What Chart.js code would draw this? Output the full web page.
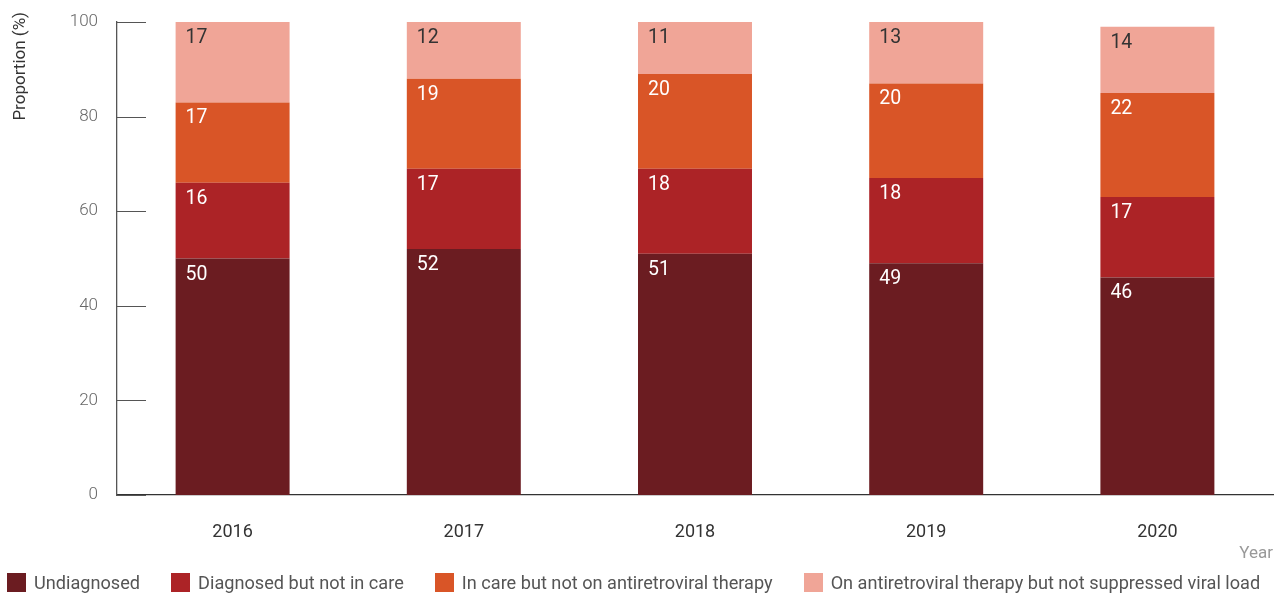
<!DOCTYPE html>
<html>
<head>
<meta charset="utf-8">
<script src="https://cdn.jsdelivr.net/npm/chart.js@4.4.0/dist/chart.umd.min.js"></script>
<style>
  html, body { margin: 0; padding: 0; background: #fff; }
  #wrap { position: relative; width: 1277px; height: 595px; overflow: hidden; }
  #legend { position: absolute; left: 7px; top: 573px; width: 1300px; display: flex; white-space: nowrap; font-family: Roboto, sans-serif; font-size: 18.15px; color: #555; }
  #legend .item { display: flex; flex-shrink: 0; align-items: center; margin-right: 31px; line-height: 19px; }
  #legend .box { width: 19px; height: 19px; margin-right: 8px; flex-shrink: 0; }
</style>
</head>
<body>
<div id="wrap">
  <canvas id="chart" width="1277" height="595"></canvas>
  <div id="legend"></div>
</div>
<script>
const years = ['2016', '2017', '2018', '2019', '2020'];
const undiagnosed = [50, 52, 51, 49, 46];
const diagnosedNotInCare = [16, 17, 18, 18, 17];
const inCareNoArt = [17, 19, 20, 20, 22];
const artNotSuppressed = [17, 12, 11, 13, 14];
const yTicks = [0, 20, 40, 60, 80, 100];

const seriesNames = [
    'Undiagnosed',
    'Diagnosed but not in care',
    'In care but not on antiretroviral therapy',
    'On antiretroviral therapy but not suppressed viral load'
];
const seriesColors = ['#6b1c21', '#ac2326', '#d95527', '#f0a597'];
const labelColors = ['#fff', '#fff', '#fff', '#333'];
const yTitle = 'Proportion (%)';

// value labels in the top-left corner of every segment
const segmentLabels = {
    id: 'segmentLabels',
    afterDatasetsDraw(chart) {
        const ctx = chart.ctx;
        ctx.save();
        ctx.font = '19.5px Roboto';
        ctx.textAlign = 'left';
        ctx.textBaseline = 'alphabetic';
        chart.data.datasets.forEach((ds, i) => {
            chart.getDatasetMeta(i).data.forEach((bar, j) => {
                ctx.fillStyle = labelColors[i];
                ctx.fillText(ds.data[j], bar.x - bar.width / 2 + 10, bar.y + 21);
            });
        });
        ctx.restore();
    }
};

// short tick marks pointing into the plot area, and the y title above the axis top
const axisExtras = {
    id: 'axisExtras',
    afterDraw(chart) {
        const ctx = chart.ctx;
        const y = chart.scales.y;
        const left = chart.chartArea.left;
        ctx.save();
        ctx.strokeStyle = '#555';
        ctx.lineWidth = 1;
        yTicks.forEach(v => {
            const py = Math.round(y.getPixelForValue(v)) + 0.5;
            ctx.beginPath();
            ctx.moveTo(left, py);
            ctx.lineTo(left + 29, py);
            ctx.stroke();
        });
        ctx.translate(25, 12);
        ctx.rotate(-Math.PI / 2);
        ctx.font = '17px Roboto';
        ctx.fillStyle = '#333';
        ctx.textAlign = 'right';
        ctx.textBaseline = 'alphabetic';
        ctx.fillText(yTitle, 0, 0);
        ctx.restore();
    }
};

const chart = new Chart(document.getElementById('chart'), {
    type: 'bar',
    data: {
        labels: years,
        datasets: [undiagnosed, diagnosedNotInCare, inCareNoArt, artNotSuppressed].map((d, i) => ({
            label: seriesNames[i],
            data: d,
            backgroundColor: seriesColors[i],
            borderWidth: 0,
            categoryPercentage: 1,
            barPercentage: 0.493
        }))
    },
    options: {
        responsive: false,
        animation: false,
        layout: { padding: { top: 22, right: 4, bottom: 31, left: 0 } },
        plugins: {
            legend: { display: false },
            tooltip: { enabled: false }
        },
        scales: {
            x: {
                stacked: true,
                grid: { display: false, drawTicks: false },
                border: { color: '#333', width: 1.3 },
                ticks: { color: '#333', font: { family: 'Roboto', size: 18 }, padding: 27 },
                title: {
                    display: true, text: 'Year', align: 'end', color: '#999',
                    font: { family: 'Roboto', size: 17 }, padding: { top: 0, bottom: 0 }
                },
                afterFit(scale) { scale.height = 69; }
            },
            y: {
                stacked: true,
                min: 0,
                max: 100,
                afterBuildTicks(scale) { scale.ticks = yTicks.map(v => ({ value: v })); },
                grid: { display: false, drawTicks: false },
                border: { color: '#555', width: 1.3 },
                ticks: { color: '#666', font: { family: 'Roboto', size: 17, weight: 300 }, padding: 19 },
                title: { display: false },
                afterFit(scale) {
                    scale.width = 117;
                    scale.paddingTop = 0;
                    scale.paddingBottom = 0;
                }
            }
        }
    },
    plugins: [segmentLabels, axisExtras]
});

// legend built from the same series names and colours
const legendDiv = document.getElementById('legend');
seriesNames.forEach((name, i) => {
    const item = document.createElement('div');
    item.className = 'item';
    item.innerHTML = `<span class="box" style="background:${seriesColors[i]}"></span><span>${name}</span>`;
    legendDiv.appendChild(item);
});
</script>
</body>
</html>
